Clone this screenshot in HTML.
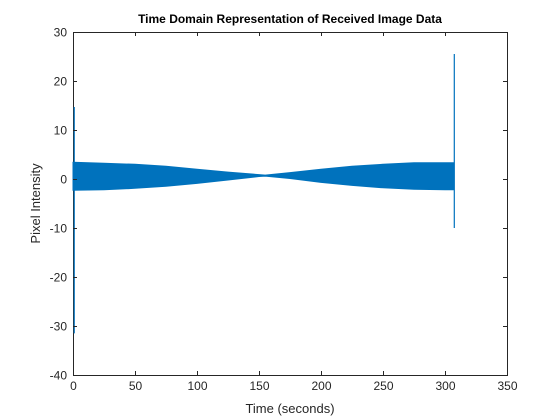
<!DOCTYPE html>
<html><head><meta charset="utf-8"><style>
html,body{margin:0;padding:0;background:#fff;}
svg{display:block;font-family:"Liberation Sans",Arial,sans-serif;}
</style></head><body>
<svg id="chart" width="560" height="420" viewBox="0 0 560 420">
<rect width="560" height="420" fill="#fff"/>
<g id="plot"></g>
</svg>
<script>
const envTimes = [0,25,50,75,100,125,150,155,175,200,225,250,275,300,307];
const envUpper = [3.4,3.2,3.0,2.6,2.0,1.4,0.9,0.8,1.3,2.0,2.6,3.0,3.3,3.3,3.3];
const envLower = [-2.3,-2.2,-1.9,-1.5,-0.9,-0.2,0.5,0.6,0.1,-0.7,-1.3,-1.8,-2.1,-2.2,-2.2];
const spikeTimes = [1,307.5];
const spikeMax = [14.7,25.5];
const spikeMin = [-31.5,-10];
const xTicks = [0,50,100,150,200,250,300,350];
const yTicks = [-40,-30,-20,-10,0,10,20,30];

const L=73,R=507,T=32,B=375;
const xMin=0,xMax=350,yMin=-40,yMax=30;
const xs=v=>L+(v-xMin)/(xMax-xMin)*(R-L);
const ys=v=>B-(v-yMin)/(yMax-yMin)*(B-T);
const NS='http://www.w3.org/2000/svg';
const g=document.getElementById('plot');
function mk(tag,attrs,parent){const e=document.createElementNS(NS,tag);for(const k in attrs)e.setAttribute(k,attrs[k]);(parent||g).appendChild(e);return e;}

// axes box
const box=mk('rect',{x:L+0.5,y:T+0.5,width:R-L,height:B-T,fill:'none',stroke:'#262626','stroke-width':'1'});



// envelope
let pts=[];
for(let i=0;i<envTimes.length;i++)pts.push(xs(envTimes[i]).toFixed(1)+','+ys(envUpper[i]).toFixed(1));
for(let i=envTimes.length-1;i>=0;i--)pts.push(xs(envTimes[i]).toFixed(1)+','+ys(envLower[i]).toFixed(1));
const env=mk('polygon',{points:pts.join(' '),fill:'#0072BD',stroke:'#0072BD','stroke-width':'1'});



for(let i=0;i<spikeTimes.length;i++){
  const s=mk('line',{x1:xs(spikeTimes[i]),x2:xs(spikeTimes[i]),y1:ys(spikeMax[i]),y2:ys(spikeMin[i]),stroke:'#0072BD','stroke-width':'1.2'});
  
  
}

xTicks.forEach(v=>{
  const x=Math.round(xs(v))+0.5;
  const t1=mk('line',{x1:x,x2:x,y1:B,y2:B-4,stroke:'#262626'});
  
  
  const t2=mk('line',{x1:x,x2:x,y1:T,y2:T+4,stroke:'#262626'});
  
  
  const lb=mk('text',{x:x,y:B+15,'text-anchor':'middle','font-size':'12',fill:'#262626'});
  lb.textContent=v;
  
  
});
yTicks.forEach(v=>{
  const y=Math.round(ys(v))+0.5;
  const t1=mk('line',{x1:L,x2:L+4,y1:y,y2:y,stroke:'#262626'});
  
  
  const t2=mk('line',{x1:R,x2:R-4,y1:y,y2:y,stroke:'#262626'});
  
  
  const lb=mk('text',{x:L-6,y:y+4,'text-anchor':'end','font-size':'12',fill:'#262626'});
  lb.textContent=v;
  
  
});
const title=mk('text',{x:(L+R)/2,y:23,'text-anchor':'middle','font-size':'12','font-weight':'bold',fill:'#000'});
title.textContent='Time Domain Representation of Received Image Data';


const xl=mk('text',{x:(L+R)/2,y:413,'text-anchor':'middle','font-size':'13',fill:'#262626'});
xl.textContent='Time (seconds)';


const yl=mk('text',{x:0,y:0,'text-anchor':'middle','font-size':'13',fill:'#262626',transform:'translate(40,'+((T+B)/2)+') rotate(-90)'});
yl.textContent='Pixel Intensity';


</script>
</body></html>
